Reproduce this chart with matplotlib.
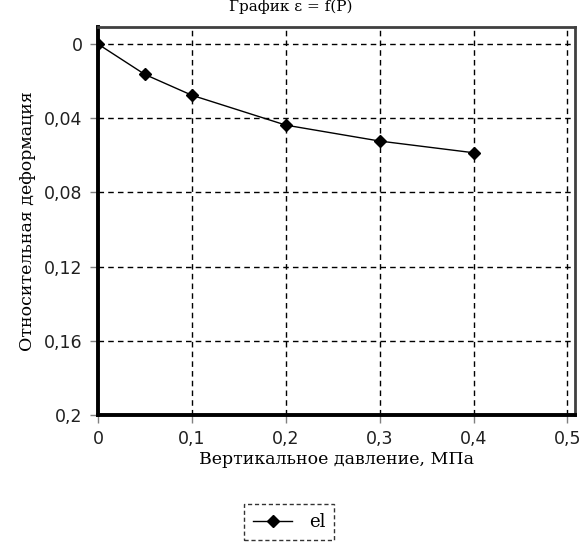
import matplotlib
matplotlib.use("Agg")
import matplotlib.pyplot as plt
from matplotlib.lines import Line2D

# data
pressure = [0.0, 0.05, 0.1, 0.2, 0.3, 0.4]
strain = [0.0, 0.0164, 0.0276, 0.0437, 0.0523, 0.0586]
xticks = [0, 0.1, 0.2, 0.3, 0.4, 0.5]
yticks = [0, 0.04, 0.08, 0.12, 0.16, 0.2]

SERIF = "DejaVu Serif"
SANS = "DejaVu Sans"
W, H = 582, 545


def comma(v):
    s = f"{v:g}"
    return s.replace(".", ",")


fig = plt.figure(figsize=(W / 100, H / 100), dpi=100)
fig.patch.set_facecolor("white")
ax = fig.add_axes([98 / W, 1 - 415 / H, (575 - 98) / W, (415 - 27) / H])

ax.plot(pressure, strain, color="black", linewidth=1.0, marker="D",
        markersize=6.5, markerfacecolor="black", markeredgecolor="black",
        label="el")

ax.set_xlim(0, 0.508)
ax.set_ylim(0.2, -0.0092)
ax.set_xticks(xticks)
ax.set_yticks(yticks)
ax.set_xticklabels([comma(v) for v in xticks], family=SANS, fontsize=12.5,
                   color="#202020")
ax.set_yticklabels([comma(v) for v in yticks], family=SANS, fontsize=12.5,
                   color="#202020")
ax.tick_params(axis="both", direction="out", color="#808080", width=1.0,
               length=6, pad=5)

ax.grid(True, color="black", linestyle=(0, (4, 3)), linewidth=1.0)
ax.set_axisbelow(True)

for side in ("left", "bottom"):
    ax.spines[side].set_linewidth(2.8)
    ax.spines[side].set_color("black")
for side in ("top", "right"):
    ax.spines[side].set_linewidth(2.0)
    ax.spines[side].set_color("#404040")

ax.set_xlabel("Вертикальное давление, МПа", family=SERIF, fontsize=12.5,
              labelpad=2)
ax.set_ylabel("Относительная деформация", family=SERIF, fontsize=12.5,
              labelpad=6)

fig.text(291 / W, 1 - 11 / H, "График ε = f(P)", family=SERIF, fontsize=11,
         ha="center", va="baseline")

leg = fig.legend(handles=[Line2D([0], [0], color="black", linewidth=1.0,
                                 marker="D", markersize=6.5)],
                 labels=["el"], loc="center", bbox_to_anchor=(289 / W, 1 - 522 / H),
                 frameon=True, fancybox=False, handlelength=2.2,
                 handletextpad=0.9, prop={"family": SERIF, "size": 13},
                 borderpad=0.5, borderaxespad=0)
frame = leg.get_frame()
frame.set_edgecolor("black")
frame.set_linestyle((0, (3, 2)))
frame.set_linewidth(1.0)

fig.savefig("out.png", dpi=100, facecolor="white")
